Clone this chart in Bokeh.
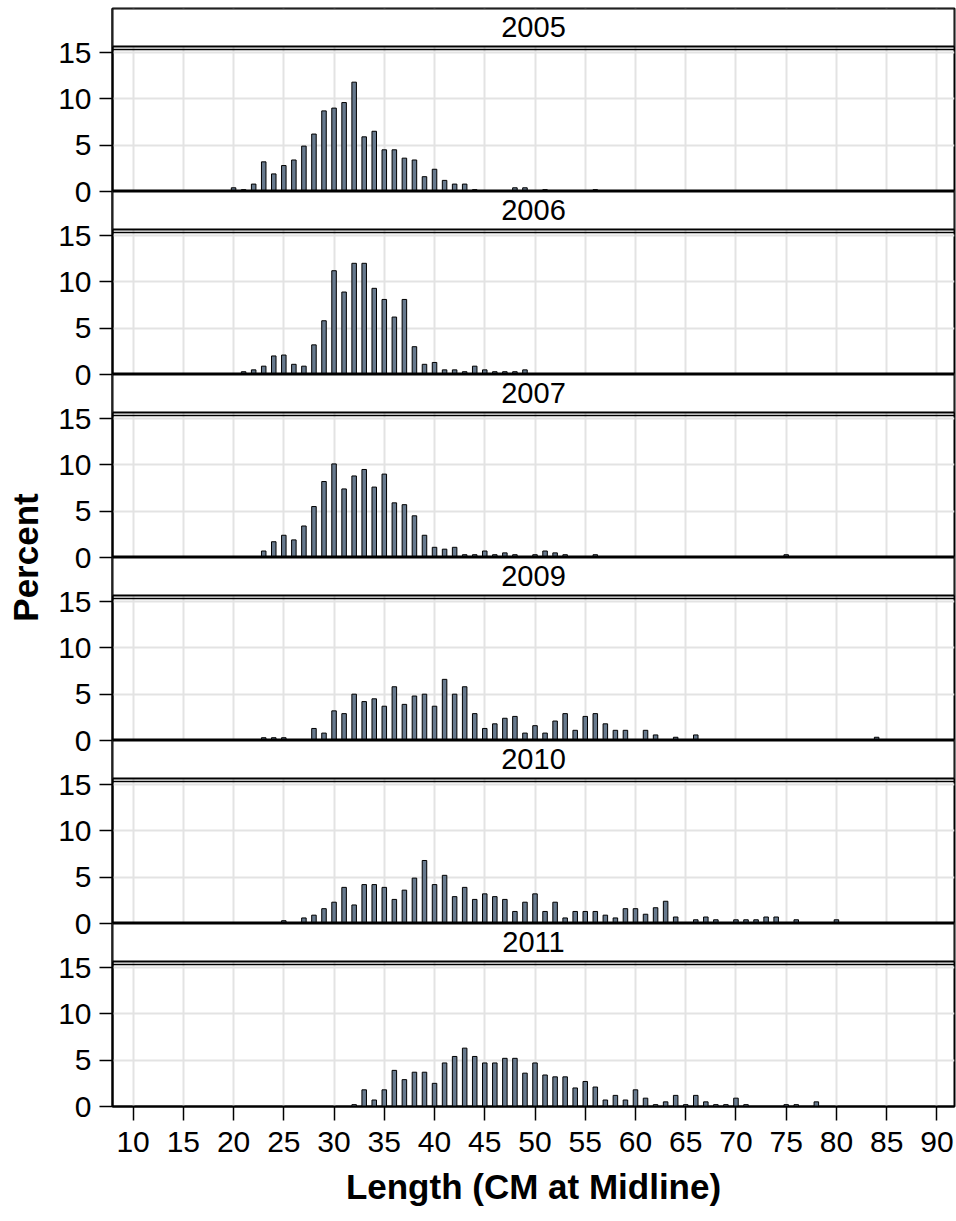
from bokeh.plotting import figure
from bokeh.models import (Range1d, FixedTicker, BoxAnnotation, Span, Label,
                          CustomJSTickFormatter)
from bokeh.embed import file_html
from bokeh.resources import INLINE

# ---------------- data ----------------
years = ["2005", "2006", "2007", "2009", "2010", "2011"]

len_2005 = [20, 21, 22, 23, 24, 25, 26, 27, 28, 29, 30, 31, 32, 33, 34, 35, 36, 37, 38, 39,
            40, 41, 42, 43, 44, 48, 49, 51, 56]
pct_2005 = [0.4, 0.2, 0.8, 3.2, 1.9, 2.8, 3.4, 4.9, 6.2, 8.7, 9.0, 9.6, 11.8, 5.9, 6.5, 4.5,
            4.5, 3.6, 3.4, 1.6, 2.4, 1.2, 0.8, 0.8, 0.2, 0.4, 0.4, 0.2, 0.2]

len_2006 = [21, 22, 23, 24, 25, 26, 27, 28, 29, 30, 31, 32, 33, 34, 35, 36, 37, 38, 39, 40,
            41, 42, 43, 44, 45, 46, 47, 48, 49]
pct_2006 = [0.3, 0.5, 0.9, 2.0, 2.1, 1.1, 0.9, 3.2, 5.8, 11.2, 8.9, 12.0, 12.0, 9.3, 8.1,
            6.2, 8.1, 3.0, 1.1, 1.3, 0.5, 0.5, 0.3, 0.9, 0.5, 0.3, 0.3, 0.3, 0.5]

len_2007 = [23, 24, 25, 26, 27, 28, 29, 30, 31, 32, 33, 34, 35, 36, 37, 38, 39, 40, 41, 42,
            43, 44, 45, 46, 47, 48, 50, 51, 52, 53, 56, 75]
pct_2007 = [0.7, 1.7, 2.4, 1.9, 3.4, 5.5, 8.2, 10.1, 7.4, 8.8, 9.5, 7.6, 9.0, 5.9, 5.7, 4.5,
            2.4, 1.1, 0.9, 1.1, 0.3, 0.3, 0.7, 0.3, 0.5, 0.3, 0.3, 0.7, 0.5, 0.3, 0.3, 0.3]

len_2009 = [23, 24, 25, 28, 29, 30, 31, 32, 33, 34, 35, 36, 37, 38, 39, 40, 41, 42, 43, 44,
            45, 46, 47, 48, 49, 50, 51, 52, 53, 54, 55, 56, 57, 58, 59, 61, 62, 64, 66, 84]
pct_2009 = [0.3, 0.3, 0.3, 1.3, 0.8, 3.2, 2.9, 5.0, 4.2, 4.5, 3.7, 5.8, 3.9, 4.8, 5.0, 3.7,
            6.6, 5.0, 5.8, 2.9, 1.3, 1.8, 2.4, 2.6, 0.8, 1.6, 0.8, 2.1, 2.9, 1.1, 2.6, 2.9,
            1.8, 1.1, 1.1, 1.1, 0.6, 0.35, 0.6, 0.35]

len_2010 = [25, 27, 28, 29, 30, 31, 32, 33, 34, 35, 36, 37, 38, 39, 40, 41, 42, 43, 44, 45,
            46, 47, 48, 49, 50, 51, 52, 53, 54, 55, 56, 57, 58, 59, 60, 61, 62, 63, 64, 66,
            67, 68, 70, 71, 72, 73, 74, 76, 80]
pct_2010 = [0.3, 0.6, 0.9, 1.6, 2.3, 3.9, 2.0, 4.2, 4.2, 3.9, 2.6, 3.6, 4.9, 6.8, 4.2, 5.2,
            2.9, 3.9, 2.6, 3.2, 2.9, 2.6, 1.3, 2.3, 3.2, 1.3, 2.3, 0.6, 1.3, 1.3, 1.3, 0.9,
            0.6, 1.6, 1.6, 1.0, 1.7, 2.4, 0.7, 0.4, 0.7, 0.4, 0.4, 0.4, 0.4, 0.7, 0.7, 0.4,
            0.4]

len_2011 = [32, 33, 34, 35, 36, 37, 38, 39, 40, 41, 42, 43, 44, 45, 46, 47, 48, 49, 50, 51,
            52, 53, 54, 55, 56, 57, 58, 59, 60, 61, 62, 63, 64, 65, 66, 67, 68, 69, 70, 71,
            75, 76, 78]
pct_2011 = [0.2, 1.8, 0.7, 1.8, 3.9, 2.9, 3.7, 3.7, 2.5, 4.7, 5.4, 6.3, 5.4, 4.7, 4.7, 5.2,
            5.2, 3.6, 4.7, 3.4, 3.2, 3.2, 2.0, 2.7, 2.1, 0.7, 1.2, 0.7, 1.8, 0.9, 0.2, 0.5,
            1.2, 0.2, 1.2, 0.5, 0.2, 0.2, 0.9, 0.2, 0.2, 0.2, 0.5]

x_ticks = [10, 15, 20, 25, 30, 35, 40, 45, 50, 55, 60, 65, 70, 75, 80, 85, 90]
y_ticks = [0, 5, 10, 15]

series = [(years[0], len_2005, pct_2005), (years[1], len_2006, pct_2006),
          (years[2], len_2007, pct_2007), (years[3], len_2009, pct_2009),
          (years[4], len_2010, pct_2010), (years[5], len_2011, pct_2011)]

# ---------------- layout / style ----------------
FONT = "Liberation Sans"
SLOT = 19.75            # vertical extent (in percent units) of one panel incl. header
HEADER_BOTTOM = 15.65
PLOT_TOP_LINE = 15.32
N = len(series)

x_range = Range1d(7.95, 91.75)
p = figure(frame_width=842, frame_height=1098,
           x_range=x_range, y_range=Range1d(0, N * SLOT),
           output_backend="svg", toolbar_location=None,
           min_border_left=112, min_border_right=2, min_border_top=8,
           min_border_bottom=108)
p.background_fill_color = "white"
p.border_fill_color = "white"
p.outline_line_color = "black"
p.outline_line_width = 2
p.outline_line_alpha = 1

# panel-wise y tick positions on the stacked main scale
main_ticks = []
for k in range(N):
    base = (N - 1 - k) * SLOT
    main_ticks += [base + t for t in y_ticks]

p.xgrid.ticker = FixedTicker(ticks=x_ticks)
p.ygrid.ticker = FixedTicker(ticks=main_ticks)
for g in (p.xgrid, p.ygrid):
    g.grid_line_color = "#e3e3e3"
    g.grid_line_width = 2

ya = p.yaxis[0]
ya.ticker = FixedTicker(ticks=main_ticks)
ya.formatter = CustomJSTickFormatter(
    args=dict(slot=SLOT),
    code="const k = Math.floor((tick + 1e-6) / slot); return Math.round(tick - k * slot).toString();")
ya.major_tick_out = 13
ya.major_tick_in = 0
ya.minor_tick_line_color = None
ya.major_tick_line_width = 1.5
ya.axis_line_width = 2
ya.major_label_text_font = FONT
ya.major_label_text_font_size = "30px"
ya.major_label_text_color = "black"
ya.major_label_standoff = 8
ya.axis_label = "Percent"
ya.axis_label_text_font = FONT
ya.axis_label_text_font_size = "35px"
ya.axis_label_text_font_style = "bold"
ya.axis_label_text_color = "black"
ya.axis_label_standoff = 10

xa = p.xaxis[0]
xa.ticker = FixedTicker(ticks=x_ticks)
xa.major_tick_out = 14
xa.major_tick_in = 0
xa.minor_tick_line_color = None
xa.major_tick_line_width = 1.5
xa.axis_line_width = 2
xa.major_label_text_font = FONT
xa.major_label_text_font_size = "30px"
xa.major_label_text_color = "black"
xa.major_label_standoff = 11
xa.axis_label = "Length (CM at Midline)"
xa.axis_label_text_font = FONT
xa.axis_label_text_font_size = "35px"
xa.axis_label_text_font_style = "bold"
xa.axis_label_text_color = "black"
xa.axis_label_standoff = 12

# each panel gets its own y scale, stacked within the frame
for k, (yr, xs, ys) in enumerate(series):
    name = "panel%d" % k
    start = -(N - 1 - k) * SLOT
    p.extra_y_ranges[name] = Range1d(start, start + N * SLOT)

    p.vbar(x=xs, top=ys, bottom=0, width=0.45, y_range_name=name,
           fill_color="#67798d", line_color="black", line_width=1)

    if k < N - 1:
        p.add_layout(Span(location=0, dimension="width", y_range_name=name,
                          line_color="black", line_width=4))
    p.add_layout(BoxAnnotation(bottom=HEADER_BOTTOM, top=SLOT, y_range_name=name,
                               fill_color="white", fill_alpha=1,
                               line_color="black", line_width=2, line_alpha=1))
    p.add_layout(Span(location=PLOT_TOP_LINE, dimension="width", y_range_name=name,
                      line_color="black", line_width=1.5))
    p.add_layout(Label(x=(x_range.start + x_range.end) / 2,
                       y=(HEADER_BOTTOM + SLOT) / 2, y_range_name=name, text=yr,
                       text_align="center", text_baseline="middle",
                       text_font=FONT, text_font_size="29px", text_color="black"))

with open("out.html", "w") as f:
    f.write(file_html(p, INLINE))
